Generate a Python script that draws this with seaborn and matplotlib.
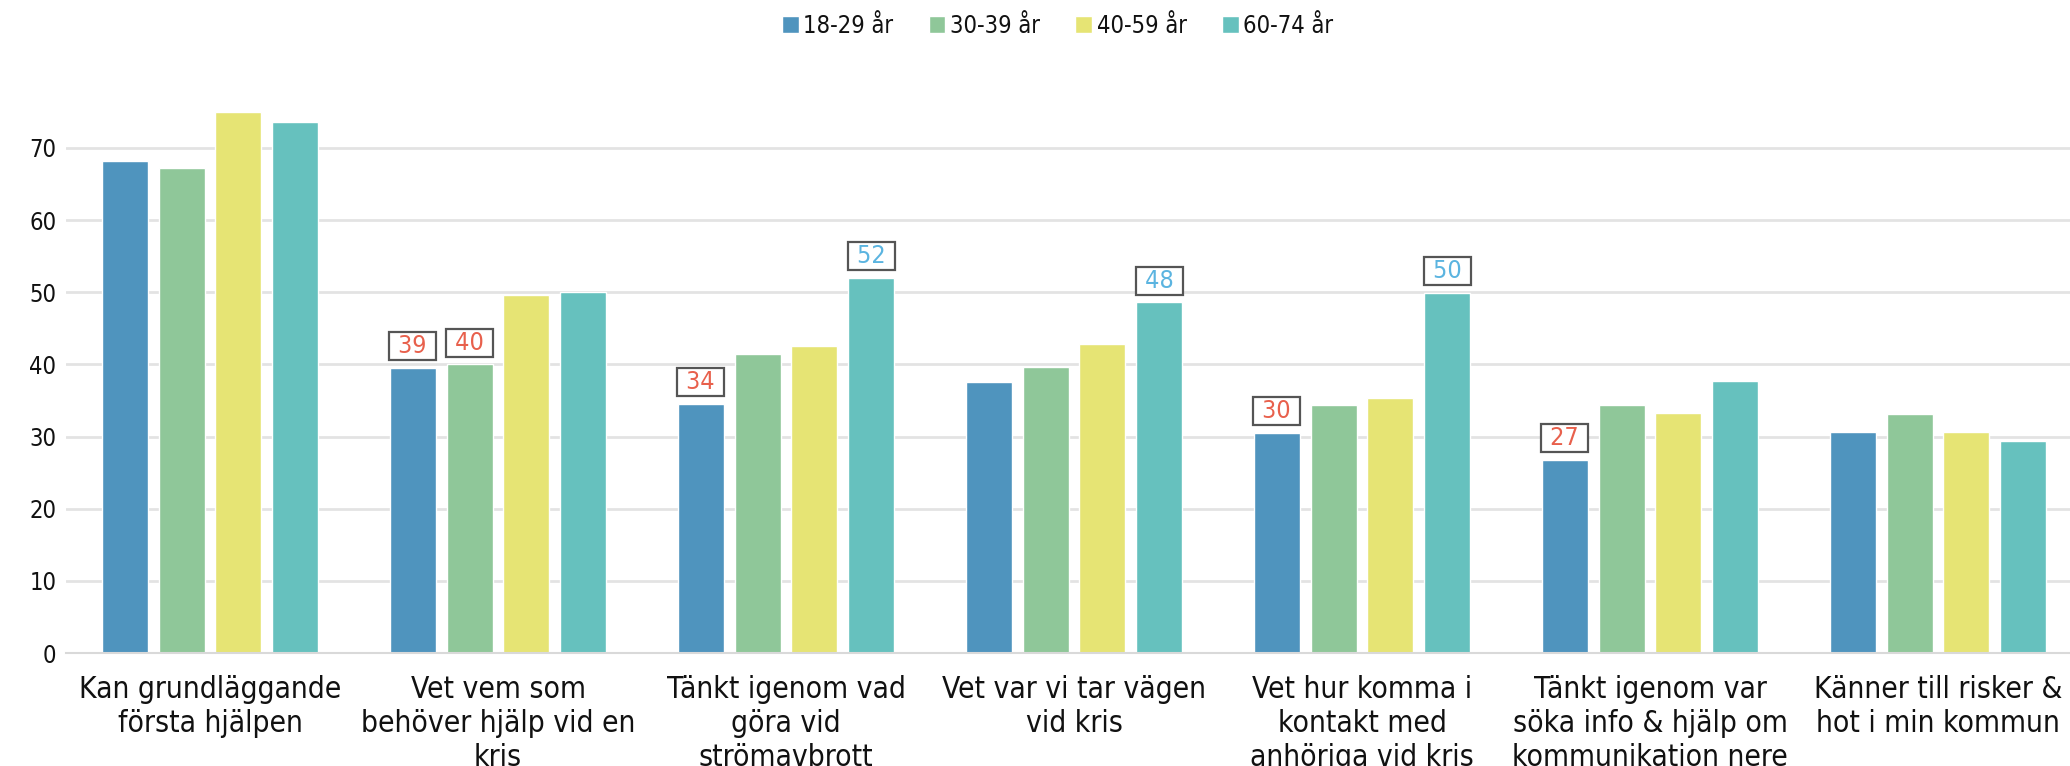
import numpy as np
import pandas as pd
import matplotlib
matplotlib.use("Agg")
import matplotlib.pyplot as plt
import seaborn as sns
from matplotlib.ticker import FixedLocator
from matplotlib import font_manager

# kategorier och serier
categories = [
    "Kan grundläggande\nförsta hjälpen",
    "Vet vem som\nbehöver hjälp vid en\nkris",
    "Tänkt igenom vad\ngöra vid\nströmavbrott",
    "Vet var vi tar vägen\nvid kris",
    "Vet hur komma i\nkontakt med\nanhöriga vid kris",
    "Tänkt igenom var\nsöka info & hjälp om\nkommunikation nere",
    "Känner till risker &\nhot i min kommun",
]
age_groups = ["18-29 år", "30-39 år", "40-59 år", "60-74 år"]
v_18_29 = [68.2, 39.5, 34.5, 37.6, 30.5, 26.8, 30.6]
v_30_39 = [67.2, 40.0, 41.4, 39.7, 34.4, 34.4, 33.1]
v_40_59 = [75.0, 49.6, 42.5, 42.8, 35.3, 33.3, 30.7]
v_60_74 = [73.6, 50.1, 52.0, 48.6, 49.9, 37.7, 29.4]
colors = ["#4F94BE", "#8FC799", "#E6E474", "#66C1BE"]

# markerade värden: (kategori, åldersgrupp, etikett, färg)
callouts = [
    (1, 0, "39", "#E8604C"), (1, 1, "40", "#E8604C"),
    (2, 0, "34", "#E8604C"), (2, 3, "52", "#5BB4E0"),
    (3, 3, "48", "#5BB4E0"),
    (4, 0, "30", "#E8604C"), (4, 3, "50", "#5BB4E0"),
    (5, 0, "27", "#E8604C"),
]

series = [v_18_29, v_30_39, v_40_59, v_60_74]
df = pd.DataFrame({
    "kategori": categories * 4,
    "grupp": np.repeat(age_groups, len(categories)),
    "värde": np.concatenate(series),
})

sns.set_theme(style="white")
names = {f.name for f in font_manager.fontManager.ttflist}
if "Liberation Sans Narrow" in names:
    plt.rcParams["font.family"] = ["Liberation Sans Narrow", "DejaVu Sans"]
else:
    plt.rcParams["font.family"] = ["DejaVu Sans"]
    plt.rcParams["font.stretch"] = "condensed"

fig = plt.figure(figsize=(20.7, 7.66), dpi=100)
ax = fig.add_axes([66 / 2070, 0.1475, 2016 / 2070, 0.7535])

sns.barplot(data=df, x="kategori", y="värde", hue="grupp", palette=colors,
            width=0.79, gap=0.19, saturation=1, ax=ax, legend=True)

ax.set_ylim(0, 80)
ax.set_xlim(-0.5, len(categories) - 0.5)
ax.set_yticks(np.arange(0, 71, 10))
ax.yaxis.grid(True, color="#E3E3E3", linewidth=2)
ax.set_axisbelow(True)
for s in ["top", "right", "left"]:
    ax.spines[s].set_visible(False)
ax.spines["bottom"].set_color("#D9D9D9")
ax.spines["bottom"].set_linewidth(1.5)
ax.tick_params(axis="y", length=0, labelsize=17, pad=7, labelcolor="#111111")
ax.tick_params(axis="x", which="major", length=0, labelsize=21.5, pad=16,
               labelcolor="#111111")
ax.xaxis.set_minor_locator(FixedLocator(np.arange(-0.5, len(categories), 1.0)))
ax.tick_params(axis="x", which="minor", length=16, color="#D9D9D9", width=1.5)
ax.set_xlabel("")
ax.set_ylabel("")
for lbl in ax.get_xticklabels():
    lbl.set_linespacing(1.22)

# etiketter med ram
n = len(age_groups)
slot = 0.79 / n
for ci, gi, txt, col in callouts:
    x = ci - 0.79 / 2 + slot * (gi + 0.5)
    y = series[gi][ci]
    ax.annotate(f" {txt} ", (x, y), xytext=(0, 7), textcoords="offset points",
                ha="center", va="bottom", fontsize=18, color=col,
                bbox=dict(boxstyle="square,pad=0.08", facecolor="white",
                          edgecolor="#555555", linewidth=1.6))

ax.legend(loc="upper center", ncol=4, frameon=False, fontsize=17,
          handlelength=0.7, handleheight=0.7, handletextpad=0.2,
          columnspacing=1.5)
leg = ax.get_legend()
leg.set_bbox_to_anchor((0.511, 1.01), transform=fig.transFigure)
for t in leg.get_texts():
    t.set_color("#111111")

fig.savefig("out.png", dpi=100)
